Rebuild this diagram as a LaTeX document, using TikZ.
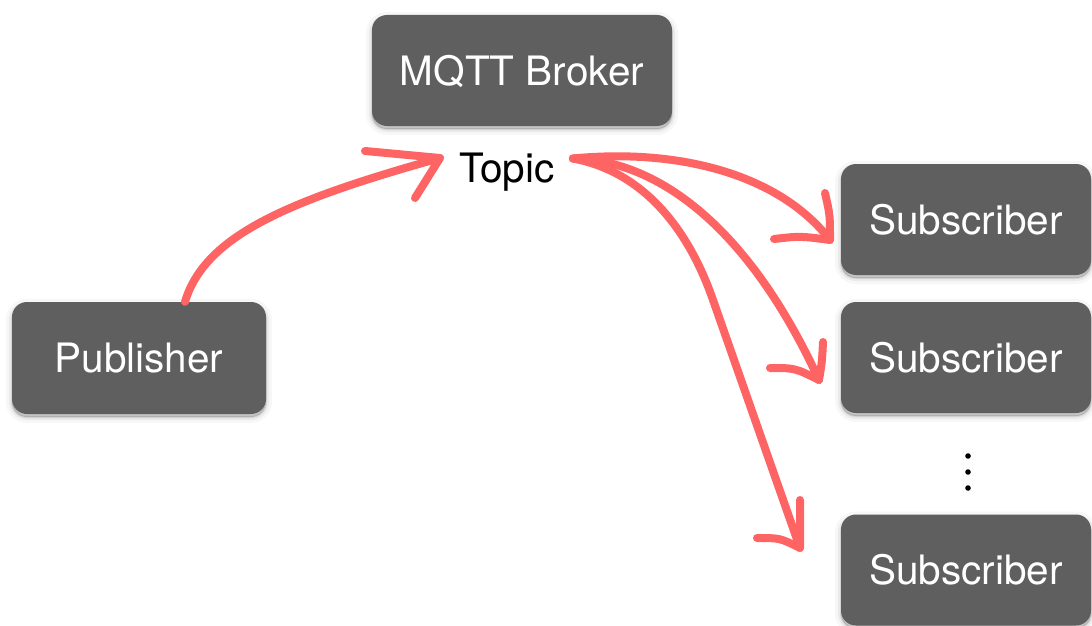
\documentclass[tikz,border=0pt]{standalone}
\usepackage{fontspec}
\setmainfont{TeX Gyre Heros}
\usetikzlibrary{shadows}
\definecolor{boxgray}{RGB}{95,95,95}
\definecolor{penred}{RGB}{255,100,100}
\begin{document}
\begin{tikzpicture}[x=1pt,y=-1pt,
  softshadow/.style={
    general shadow={fill=black, draw=black, line width=12pt, opacity=0.03, shadow yshift=-3pt},
    general shadow={fill=black, draw=black, line width=6pt, opacity=0.05, shadow yshift=-3pt},
    general shadow={fill=black, draw=black, line width=2pt, opacity=0.09, shadow yshift=-3pt}},
  box/.style={softshadow, fill=boxgray, rounded corners=15pt, text=white,
    font=\fontsize{40.5}{41}\selectfont, inner sep=0pt,
    text height=29.5pt, text depth=0pt},
  lbl/.style={font=\fontsize{40.5}{41}\selectfont, inner sep=0pt, text height=29.5pt, text depth=0pt},
  pen/.style={draw=penred, line width=8pt, line cap=round, line join=round}]
\useasboundingbox (0,0) rectangle (1092,626);

\node[box, minimum width=300pt, minimum height=111pt] (broker) at (522,70.5) {MQTT Broker};
\node[box, minimum width=254pt, minimum height=112pt] (pub) at (139,358) {Publisher};
\node[box, minimum width=250pt, minimum height=111pt] (sub1) at (966,219.5) {Subscriber};
\node[box, minimum width=250pt, minimum height=111pt] (sub2) at (966,357.5) {Subscriber};
\node[box, minimum width=250pt, minimum height=111pt] (sub3) at (966,570) {Subscriber};
\node[lbl] (topic) at (507,167.5) {Topic};

% dots
\fill (968,456) circle (2.8);
\fill (968,472) circle (2.8);
\fill (968,488) circle (2.8);

% arrow tips
\coordinate (tp) at (440,158);
\coordinate (t1) at (830,240);
\coordinate (t2) at (819,380);
\coordinate (t3) at (800,548);
\coordinate (s) at ([xshift=18pt,yshift=9pt]topic.east);

% publisher -> topic
\draw[pen] ([xshift=46pt]pub.north) .. controls (205,235) and (290,200) .. (tp);
\draw[pen] (365,151) -- (tp) -- (415,198);

% topic -> subscribers
\draw[pen] (s) .. controls (680,148) and (780,175) .. (t1);
\draw[pen] (825,193) .. controls (830,215) .. (t1) .. controls (800,236) .. (774,239);

\draw[pen] (s) .. controls (660,160) and (750,230) .. (t2);
\draw[pen] (823,342) .. controls (822,362) .. (t2) .. controls (795,368) .. (770,368);

\draw[pen] (s) .. controls (645,172) and (689,231) .. (713,300) -- (t3);
\draw[pen] (800,500) -- (t3) .. controls (780,538) .. (757,538);
\end{tikzpicture}
\end{document}
